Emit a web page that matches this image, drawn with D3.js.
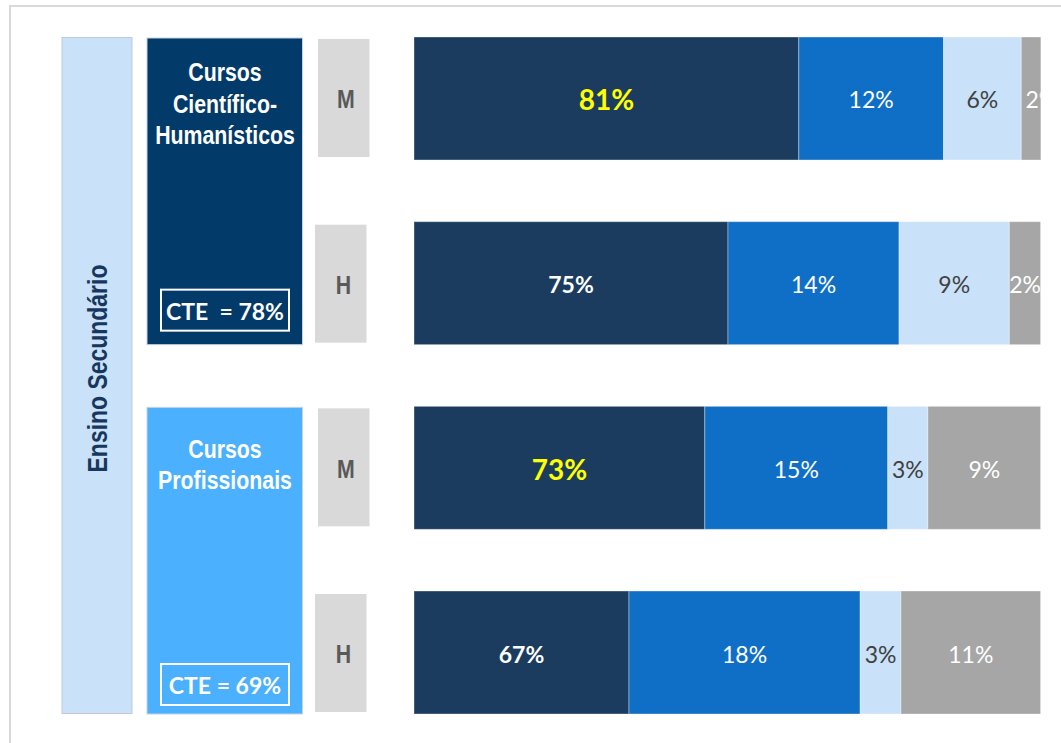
<!DOCTYPE html>
<html><head><meta charset="utf-8">
<script src="https://cdn.jsdelivr.net/npm/d3@7"></script>
<style>
html,body{margin:0;padding:0;background:#fff;}
svg{display:block;}
</style></head>
<body>
<svg id="chart" width="1061" height="743"></svg>
<script>
// ---------- data ----------
const rows = ["CCH-M", "CCH-H", "CP-M", "CP-H"];
const rowTags = ["M", "H", "M", "H"];
const segmentNames = ["s1", "s2", "s3", "s4"];
const values1 = [80.7, 75.05, 73.2, 67.15];
const values2 = [11.55, 13.65, 14.6, 18.45];
const values3 = [6.2, 8.8, 3.2, 3.25];
const values4 = [3.2, 2.5, 9.0, 11.15];
const labels1 = ["81%", "75%", "73%", "67%"];
const labels2 = ["12%", "14%", "15%", "18%"];
const labels3 = ["6%", "9%", "3%", "3%"];
const labels4 = ["2%", "2%", "9%", "11%"];
const groups = [
  {name: ["Cursos", "Científico-", "Humanísticos"], cte: "CTE  = 78%", rows: [0, 1]},
  {name: ["Cursos", "Profissionais"], cte: "CTE = 69%", rows: [2, 3]}
];
const levelLabel = "Ensino Secundário";
const axisDomain = [50, 100];

// ---------- styles ----------
const segColors = ["#1B3C5F", "#0F6FC6", "#C9E2F9", "#A6A6A6"];
const groupColors = ["#023A69", "#4BB0FE"];
const cteOffsets = [14, 9];
const titleOffsets = [34, 41];
const arialB = "'Liberation Sans',Arial,sans-serif";
const NARROW = 0.82;
const calib = "Lato,'Open Sans',sans-serif";

const svg = d3.select("#chart");

// outer frame
svg.append("rect").attr("x", 10).attr("y", 6).attr("width", 1100).attr("height", 800)
  .attr("fill", "none").attr("stroke", "#D9D9D9").attr("stroke-width", 2);

const x = d3.scaleLinear().domain(axisDomain).range([414, 1040.7]);
const y = d3.scaleBand().domain(rows).range([37, 714]).paddingInner(0.334).paddingOuter(0);

svg.append("defs").append("clipPath").attr("id", "plotclip")
  .append("rect").attr("x", 414).attr("y", 0).attr("width", 1040.7 - 414).attr("height", 743);

const table = rows.map((r, i) => ({row: r, s1: values1[i], s2: values2[i], s3: values3[i], s4: values4[i]}));
const stack = d3.stack().keys(segmentNames)(table);
const labelSets = [labels1, labels2, labels3, labels4];

const plot = svg.append("g").attr("clip-path", "url(#plotclip)");
stack.forEach((layer, k) => {
  const g = plot.append("g");
  g.selectAll("rect").data(layer).join("rect")
    .attr("x", d => x(Math.max(d[0], axisDomain[0])))
    .attr("y", d => y(d.data.row))
    .attr("width", d => x(d[1]) - x(Math.max(d[0], axisDomain[0])))
    .attr("height", y.bandwidth())
    .attr("fill", segColors[k])
    .attr("stroke", "rgba(255,255,255,0.35)")
    .attr("stroke-width", 1);
  g.selectAll("text").data(layer).join("text")
    .attr("x", d => (x(Math.max(d[0], axisDomain[0])) + x(d[1])) / 2)
    .attr("y", d => y(d.data.row) + y.bandwidth() / 2 + 1)
    .attr("text-anchor", "middle")
    .attr("dominant-baseline", "central")
    .attr("font-family", calib)
    .attr("font-weight", k === 0 ? 700 : 400)
    .attr("font-size", (d, i) => k === 0 ? (rowTags[i] === "M" ? 28 : 23) : 23)
    .attr("fill", (d, i) => {
      if (k === 0) return rowTags[i] === "M" ? "#FFFF00" : "#FFFFFF";
      if (k === 2) return "#404040";
      return "#FFFFFF";
    })
    .text((d, i) => labelSets[k][i]);
});

function narrowText(tx, ty, rot, size, color, str) {
  svg.append("text")
    .attr("transform", `translate(${tx},${ty}) rotate(${rot}) scale(${NARROW},1)`)
    .attr("text-anchor", "middle").attr("dominant-baseline", "central")
    .attr("font-family", arialB).attr("font-weight", 700).attr("font-size", size)
    .attr("fill", color).text(str);
}

// M / H tags
rows.forEach((r, i) => {
  const isM = rowTags[i] === "M";
  const dx = isM ? 318 : 315;
  const top = y(r) + (isM ? 2 : 3);
  const h = 118;
  svg.append("rect").attr("x", dx).attr("y", top).attr("width", 51.5).attr("height", h)
    .attr("fill", "#D9D9D9");
  narrowText(dx + (isM ? 28 : 28.5), top + h / 2 + 1, 0, 26, "#595959", rowTags[i]);
});

// Ensino Secundário box
const top0 = y(rows[0]), bot0 = y(rows[rows.length - 1]) + y.bandwidth();
svg.append("rect").attr("x", 62).attr("y", top0 + 0.5).attr("width", 70).attr("height", bot0 - top0 - 1)
  .attr("fill", "#C9E2F9").attr("stroke", "#BFCAD6").attr("stroke-width", 1);
narrowText(97, (top0 + bot0) / 2 - 7, -90, 28, "#17375E", levelLabel);

// group boxes
groups.forEach((gr, gi) => {
  const t = y(rows[gr.rows[0]]) + 1;
  const b = y(rows[gr.rows[1]]) + y.bandwidth();
  svg.append("rect").attr("x", 147).attr("y", t).attr("width", 155.5).attr("height", b - t)
    .attr("fill", groupColors[gi]).attr("stroke", "#C8D2DC").attr("stroke-width", 1);
  gr.name.forEach((line, li) => {
    narrowText(225, t + titleOffsets[gi] + li * 31.5, 0, 26, "#FFFFFF", line);
  });
  const cb = b - cteOffsets[gi];
  svg.append("rect").attr("x", 161).attr("y", cb - 41).attr("width", 128).attr("height", 41)
    .attr("fill", "none").attr("stroke", "#FFFFFF").attr("stroke-width", 2);
  svg.append("text").attr("x", 225).attr("y", cb - 20)
    .attr("text-anchor", "middle").attr("dominant-baseline", "central")
    .attr("font-family", calib).attr("font-weight", 700).attr("font-size", 23)
    .attr("fill", "#FFFFFF").style("white-space", "pre").text(gr.cte);
});
</script>
</body></html>
